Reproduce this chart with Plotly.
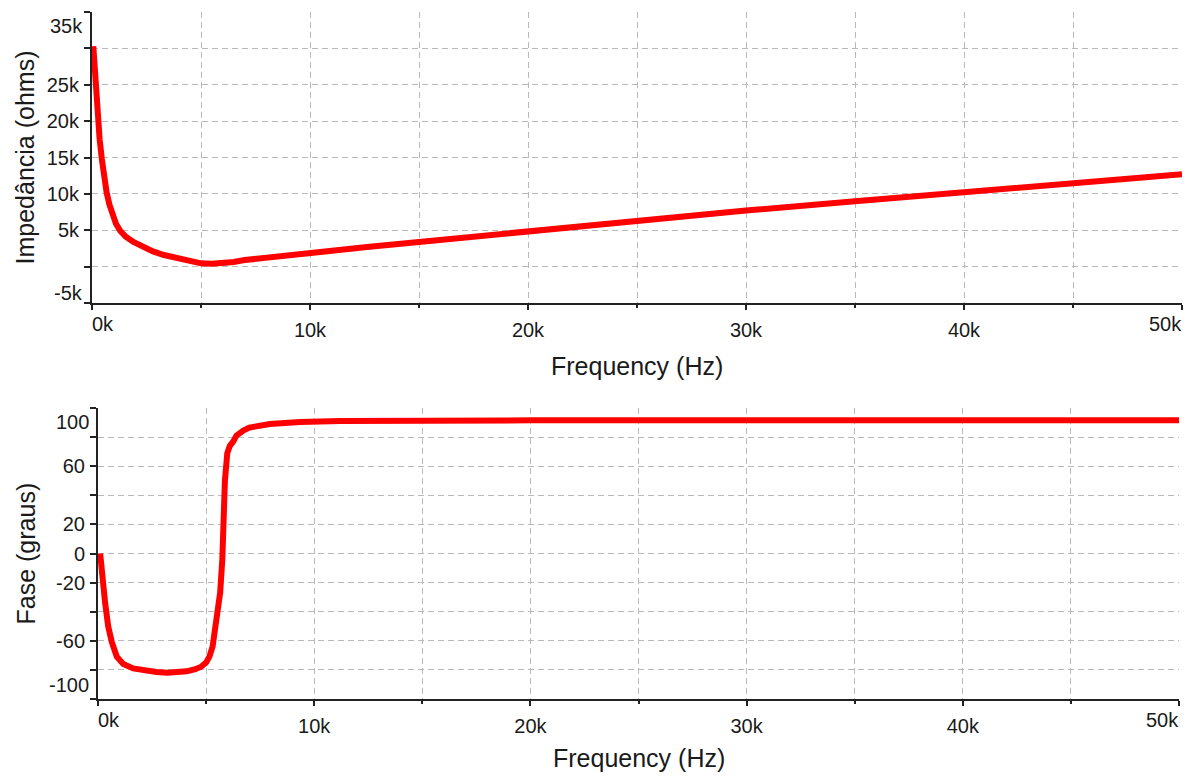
import plotly.graph_objects as go

# ---------------- data ----------------
freq_imp = [60, 150, 250, 350, 450, 550, 670, 800, 950, 1100, 1300, 1550, 1900, 2300,
            2800, 3300, 3900, 4500, 5000, 5500, 6000, 6500, 7000, 8000, 9000, 10000,
            12500, 15000, 17500, 20000, 25000, 30000, 35000, 40000, 45000, 50000]
impedance = [30300, 25200, 20500, 17500, 14800, 12500, 10200, 8500, 7000, 5900, 4900,
             4100, 3400, 2800, 2100, 1600, 1150, 750, 450, 380, 420, 650, 900, 1250,
             1600, 1900, 2650, 3400, 4150, 4900, 6300, 7700, 9000, 10200, 11500, 12700]

freq_phase = [100, 200, 330, 470, 640, 870, 1170, 1630, 2100, 2700, 3200, 3700, 4100,
              4500, 4750, 5000, 5150, 5300, 5420, 5500, 5650, 5750, 5800, 5870, 5980,
              6100, 6260, 6400, 6720, 7000, 7950, 9340, 11200, 13200, 20000, 30000,
              40000, 50000]
phase = [0, -18, -34, -50, -61, -71, -76, -79, -80.5, -81.5, -82, -81.8, -81, -79.5,
         -78, -75, -71, -64, -52, -43, -27, -4, 21, 50, 69, 74, 77, 81, 84.5, 86.5, 89,
         90.4, 91, 91.3, 91.5, 91.5, 91.5, 91.5]

x_major = [0, 10000, 20000, 30000, 40000, 50000]
x_labels = ["0k", "10k", "20k", "30k", "40k", "50k"]
x_minor = [5000, 15000, 25000, 35000, 45000]

imp_ticks = [-5000, 0, 5000, 10000, 15000, 20000, 25000, 30000, 35000]
imp_labels = ["-5k", "", "5k", "10k", "15k", "20k", "25k", "", "35k"]

phase_ticks = [-100, -80, -60, -40, -20, 0, 20, 40, 60, 80, 100]
phase_labels = ["-100", "", "-60", "", "-20", "0", "20", "", "60", "", "100"]

x_title = "Frequency (Hz)"
imp_title = "Impedância (ohms)"
phase_title = "Fase (graus)"

# ---------------- styling ----------------
W, H = 1189, 776
FONT = "Liberation Sans, Arial, sans-serif"
TXT = "#1a1a1a"
AX = "#222222"
GRID = "#b9b9b9"
RED = "#ff0000"


def fx(p):
    return p / W


def fy(p):
    return 1 - p / H


fig = go.Figure()
fig.add_trace(go.Scatter(x=freq_imp, y=impedance, mode="lines",
                         line=dict(color=RED, width=6), xaxis="x", yaxis="y",
                         showlegend=False, hoverinfo="skip"))
fig.add_trace(go.Scatter(x=freq_phase, y=phase, mode="lines",
                         line=dict(color=RED, width=6), xaxis="x2", yaxis="y2",
                         showlegend=False, hoverinfo="skip"))


def inner(vals, labels):
    # edge labels are placed separately (shifted inward like the original)
    return [l if 0 < i < len(vals) - 1 else "" for i, l in enumerate(labels)]


def xaxis(domain, anchor):
    return dict(domain=domain, anchor=anchor, range=[0, 50000],
                tickmode="array", tickvals=x_major, ticktext=inner(x_major, x_labels),
                ticks="outside", ticklen=5, tickwidth=2, tickcolor=AX,
                showline=True, linecolor=AX, linewidth=2,
                showgrid=True, gridcolor=GRID, griddash="6px,4px", gridwidth=1,
                minor=dict(tickmode="array", tickvals=x_minor, ticks="outside",
                           ticklen=3, tickwidth=2, tickcolor=AX, showgrid=True,
                           gridcolor=GRID, griddash="6px,4px", gridwidth=1),
                zeroline=False, tickfont=dict(family=FONT, size=20, color=TXT),
                ticklabelstandoff=3, fixedrange=True)


def yaxis(domain, anchor, rng, vals, labels):
    return dict(domain=domain, anchor=anchor, range=rng,
                tickmode="array", tickvals=vals, ticktext=inner(vals, labels),
                ticks="outside", ticklen=6, tickwidth=2, tickcolor=AX,
                showline=True, linecolor=AX, linewidth=2,
                showgrid=True, gridcolor=GRID, griddash="6px,4px", gridwidth=1,
                zeroline=False, tickfont=dict(family=FONT, size=20, color=TXT),
                ticklabelstandoff=1, fixedrange=True)


ann = []
tf = dict(family=FONT, size=20, color=TXT)
titlef = dict(family=FONT, size=25, color=TXT)

for xa, ya, xshift_title in (("x", "y", -63), ("x2", "y2", -59)):
    # x edge labels
    ann.append(dict(text=x_labels[0], x=x_major[0], xref=xa, y=0, yref=ya + " domain",
                    xanchor="left", yanchor="top", yshift=-8, xshift=-2,
                    showarrow=False, font=tf))
    ann.append(dict(text=x_labels[-1], x=x_major[-1], xref=xa, y=0, yref=ya + " domain",
                    xanchor="right", yanchor="top", yshift=-8, xshift=2,
                    showarrow=False, font=tf))
    # x title
    ann.append(dict(text=x_title, x=0.5, xref=xa + " domain", y=0, yref=ya + " domain",
                    xanchor="center", yanchor="middle", yshift=xshift_title,
                    showarrow=False, font=titlef))

# y edge labels
ann.append(dict(text=imp_labels[-1], x=0, xref="x domain", y=imp_ticks[-1], yref="y",
                xanchor="right", yanchor="middle", xshift=-7, yshift=-14,
                showarrow=False, font=tf))
ann.append(dict(text=imp_labels[0], x=0, xref="x domain", y=imp_ticks[0], yref="y",
                xanchor="right", yanchor="middle", xshift=-7, yshift=10,
                showarrow=False, font=tf))
ann.append(dict(text=phase_labels[-1], x=0, xref="x2 domain", y=phase_ticks[-1], yref="y2",
                xanchor="right", yanchor="middle", xshift=-7, yshift=-14,
                showarrow=False, font=tf))
ann.append(dict(text=phase_labels[0], x=0, xref="x2 domain", y=phase_ticks[0], yref="y2",
                xanchor="right", yanchor="middle", xshift=-7, yshift=14,
                showarrow=False, font=tf))

# y titles
ann.append(dict(text=imp_title, x=fx(25), xref="paper", y=0.5, yref="y domain",
                xanchor="center", yanchor="middle", textangle=-90,
                showarrow=False, font=titlef))
ann.append(dict(text=phase_title, x=fx(25), xref="paper", y=0.5, yref="y2 domain",
                xanchor="center", yanchor="middle", textangle=-90,
                showarrow=False, font=titlef))

fig.update_layout(
    width=W, height=H,
    margin=dict(l=0, r=0, t=0, b=0),
    paper_bgcolor="white", plot_bgcolor="white",
    xaxis=xaxis([fx(92), fx(1182)], "y"),
    yaxis=yaxis([fy(303), fy(12)], "x", [-5000, 35000], imp_ticks, imp_labels),
    xaxis2=xaxis([fx(98), fx(1179)], "y2"),
    yaxis2=yaxis([fy(699), fy(408)], "x2", [-100, 100], phase_ticks, phase_labels),
    annotations=ann,
    showlegend=False,
)

fig.write_html("out.html", config=dict(displayModeBar=False))
